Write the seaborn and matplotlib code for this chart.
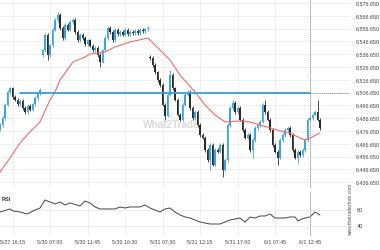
import numpy as np
import pandas as pd
import matplotlib
matplotlib.use("Agg")
import matplotlib.pyplot as plt
import seaborn as sns

# ---------------- data ----------------
closes = [
    6481.3, 6486.8, 6497.0, 6507.1, 6510.2,
    6503.2, 6500.9, 6497.7, 6500.1,
    6494.6, 6491.5, 6496.2, 6493.1, 6497.7,
    6502.4, 6506.3, 6508.7,
    6539.9, 6551.7, 6536.0, 6543.8, 6555.6, 6563.4,
    6567.3, 6557.1, 6549.3, 6559.5, 6555.6,
    6561.8, 6563.4, 6554.0, 6547.7, 6551.7,
    6549.3, 6544.6, 6547.7, 6543.1, 6539.9,
    6541.5, 6536.0, 6530.6, 6539.9, 6549.3,
    6557.1, 6554.0, 6547.7, 6555.6, 6552.4,
    6554.0, 6551.7, 6555.6, 6552.4, 6554.0, 6553.2, 6554.8, 6553.2, 6555.6, 6554.8, 6556.3,
    6557.1,
    6533.7, 6528.2, 6522.7, 6516.5, 6512.6,
    6497.0, 6488.4, 6504.8, 6520.4,
    6510.2, 6500.9, 6489.2, 6485.3, 6497.0, 6504.8,
    6507.1, 6494.6, 6486.8, 6491.5, 6481.3, 6473.5,
    6471.2, 6461.8, 6454.0, 6465.7, 6450.1, 6461.8,
    6460.3, 6465.7, 6446.2, 6454.0, 6481.3, 6494.6,
    6498.5, 6491.5, 6494.6, 6485.3, 6477.4, 6471.2,
    6473.5, 6461.8, 6469.6, 6479.0, 6481.3, 6483.7,
    6497.0, 6491.5, 6485.3, 6477.4, 6465.7, 6460.3,
    6455.6, 6469.6, 6473.5, 6477.4, 6479.0, 6473.5,
    6461.8, 6455.6, 6460.3, 6457.9, 6461.8, 6469.6,
    6485.3, 6486.8, 6489.2, 6491.5, 6485.3, 6479.0,
]
first_open = 6478.0
gap_opens = {17: 6536.0, 60: 6534.5}
high_marks = {23: 6569.6, 60: 6536.0, 68: 6524.0, 93: 6500.9, 106: 6500.9, 127: 6500.9}
low_marks = {19: 6532.0, 40: 6526.7, 66: 6485.0, 84: 6446.0, 89: 6440.7,
             101: 6455.6, 111: 6450.1, 119: 6451.7}

ma_idx = [0, 4, 8, 12, 16, 20, 22, 24, 29.2, 34, 36, 42, 46, 52, 59.2, 62, 65.2, 68, 72, 78,
          82, 86, 90, 96, 100, 104, 108, 112, 116, 120, 122, 124, 128]
ma_val = [6444.6, 6455.5, 6467.3, 6476.0, 6483.7, 6500.9, 6507.1, 6516.5, 6530.6, 6534.5,
          6536.8, 6538.4, 6542.3, 6546.2, 6549.3, 6543.8, 6537.6, 6532.1, 6520.4, 6507.1,
          6497.0, 6489.2, 6483.7, 6484.5, 6483.7, 6481.3, 6479.0, 6476.7, 6475.1, 6471.2,
          6469.6, 6471.2, 6475.1]

rsi_idx = [0, 4, 5.2, 8, 10.8, 13.2, 16, 18, 20, 22, 24, 26, 28, 32, 34, 36, 38, 40, 46, 48,
           50, 52, 56, 58, 60, 62, 64, 66, 68, 70, 72, 74, 76, 80, 84, 88, 90, 92, 96, 98,
           100, 102, 104, 106, 108, 110, 114, 116, 118, 119.2, 120.8, 122, 124, 126, 128]
rsi_val = [57.5, 61.3, 58.8, 57.5, 55.0, 58.8, 62.5, 72.5, 70.0, 67.5, 70.0, 66.3, 68.8, 65.0,
           71.3, 68.8, 63.8, 61.3, 61.3, 63.8, 62.5, 63.8, 63.8, 66.3, 62.5, 60.0, 57.5, 61.3,
           62.5, 57.5, 53.8, 51.3, 50.0, 45.0, 42.5, 42.5, 45.0, 47.5, 50.0, 45.0, 51.3, 50.0,
           52.5, 52.5, 55.0, 50.0, 50.0, 51.3, 51.3, 46.3, 48.8, 50.0, 51.3, 57.5, 53.8]

level = 6506.65
price_ticks = [6576.65, 6566.65, 6556.65, 6546.65, 6536.65, 6526.65, 6516.65, 6506.65,
               6496.65, 6486.65, 6476.65, 6466.65, 6456.65, 6446.65, 6436.65]
time_pos = [5, 20, 35, 50, 65, 80, 95, 110, 124]
time_labels = ["5/27 16:15", "5/30 07:00", "5/30 11:45", "5/30 16:30", "5/31 07:30",
               "5/31 12:15", "5/31 17:00", "6/1 07:45", "6/1 12:45"]
rsi_ticks = [60, 40]
now_idx = 124
arrow_from = (126, 6493.1)
arrow_to = (140.8, 6507.0)

# ---------------- build candles ----------------
df = pd.DataFrame({"close": closes})
df["open"] = df["close"].shift(1)
df.loc[0, "open"] = first_open
for k, v in gap_opens.items():
    df.loc[k, "open"] = v
df["high"] = df[["open", "close"]].max(axis=1) + 1.2
df["low"] = df[["open", "close"]].min(axis=1) - 1.2
for k, v in high_marks.items():
    df.loc[k, "high"] = v
for k, v in low_marks.items():
    df.loc[k, "low"] = v
df["i"] = np.arange(len(df))

sns.set_style("white")
plt.rcParams["font.family"] = ["Liberation Sans", "DejaVu Sans"]

W, H = 380, 250
fig = plt.figure(figsize=(W / 100, H / 100), dpi=100)
ax = fig.add_axes([0, 1 - 188 / H, 350 / W, 188 / H])
axr = fig.add_axes([0, 1 - 236 / H, 350 / W, 44 / H])

UP = "#38a6e6"
DN = "#2a2a2a"
GRID = "#ececec"

for a in (ax, axr):
    a.set_xlim(0, 140)
    for s in a.spines.values():
        s.set_visible(False)
    for t in time_pos:
        a.axvline(t, color=GRID, lw=0.6, zorder=0)

ax.set_ylim(6432.1, 6579.0)
for p in price_ticks:
    ax.axhline(p, color=GRID, lw=0.6, zorder=0)

ax.text(68.5, 6481.0, "What2Trade", color="#dadada", fontsize=7.2, fontweight="bold",
        ha="center", va="center", zorder=1)
ax.text(68.0, 6488.5, "≈", color="#cfe4f1", fontsize=8, fontweight="bold",
        ha="center", va="center", zorder=1)

up = df["close"] >= df["open"]
colors = np.where(up, UP, DN)
ax.vlines(df["i"], df["low"], df["high"], colors=colors, lw=0.6, zorder=2)
ax.bar(df["i"], (df["close"] - df["open"]).abs().clip(lower=0.6),
       bottom=df[["open", "close"]].min(axis=1), width=0.7, color=colors,
       linewidth=0, zorder=3)

sns.lineplot(x=ma_idx, y=ma_val, ax=ax, color="#f26b6b", lw=0.8, zorder=4)

ax.plot([8, now_idx], [level, level], color="#3a9ed8", lw=1.3, zorder=5)
ax.plot([now_idx, 140], [level, level], color="#888888", lw=0.7,
        linestyle=(0, (1, 1)), zorder=5)
ax.annotate("", xy=arrow_to, xytext=arrow_from,
            arrowprops=dict(arrowstyle="-|>", color="#888888", lw=0.7,
                            mutation_scale=5), zorder=6)
ax.axvline(now_idx, color="#888888", lw=0.7, linestyle=(0, (1, 1)), zorder=5)

ax.yaxis.tick_right()
ax.set_yticks(price_ticks)
ax.set_yticklabels([f"{p:,.3f}" for p in price_ticks])
ax.tick_params(axis="y", length=0, pad=4, labelsize=3.9, labelcolor="#444444")
ax.set_xticks([])

# ---------------- RSI ----------------
axr.set_ylim(27.5, 82.5)
for r in rsi_ticks:
    axr.axhline(r, color=GRID, lw=0.6, zorder=0)
sns.lineplot(x=rsi_idx, y=rsi_val, ax=axr, color="#444444", lw=0.7)
axr.axvline(now_idx, color="#888888", lw=0.7, linestyle=(0, (1, 1)), zorder=5)
axr.text(0.5, 73, "RSI", fontsize=4, fontweight="bold", color="#333333", va="center")
axr.yaxis.tick_right()
axr.set_yticks(rsi_ticks)
axr.set_yticklabels([str(r) for r in rsi_ticks])
axr.tick_params(axis="y", length=0, pad=5, labelsize=4, labelcolor="#444444")
axr.set_xticks(time_pos)
axr.set_xticklabels(time_labels)
axr.tick_params(axis="x", length=0, pad=3, labelsize=3.8, labelcolor="#444444")
axr.set_xlabel("")
axr.set_ylabel("")
ax.set_xlabel("")
ax.set_ylabel("")

fig.text(351 / W, 1 - 210 / H, "www.thetraderhub.com", rotation=90, fontsize=3.6,
         color="#555555", ha="center", va="center")

fig.savefig("out.png", dpi=100)
